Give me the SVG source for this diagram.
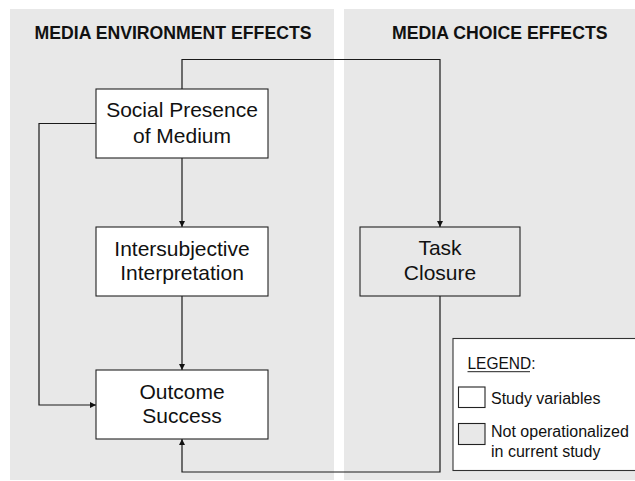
<svg xmlns="http://www.w3.org/2000/svg" width="635" height="481" viewBox="0 0 635 481">
<style>
.panel{fill:#e8e8e8;stroke:none}
.hdr{font-family:"Liberation Sans",Arial,sans-serif;font-weight:bold;font-size:18px;fill:#111}
.box{fill:#fff;stroke:#222;stroke-width:1.1}
.gbox{fill:#e8e8e8;stroke:#222;stroke-width:1.1}
.lbl{font-family:"Liberation Sans",Arial,sans-serif;font-size:21px;fill:#111;text-anchor:middle}
.leg{font-family:"Liberation Sans",Arial,sans-serif;font-size:16px;fill:#111}
.con{fill:none;stroke:#1a1a1a;stroke-width:1.2}
</style>
<defs>
<marker id="ah" viewBox="0 0 10 10" refX="10" refY="5" markerWidth="6" markerHeight="6" markerUnits="userSpaceOnUse" orient="auto">
<path d="M0,0 L10,5 L0,10 z" fill="#111"/>
</marker>
</defs>
<rect class="panel" x="10" y="9" width="324" height="471"/>
<rect class="panel" x="344" y="9" width="291" height="471"/>
<text class="hdr" x="34.5" y="39.3" textLength="277" lengthAdjust="spacingAndGlyphs">MEDIA ENVIRONMENT EFFECTS</text>
<text class="hdr" x="392" y="39.3" textLength="215.5" lengthAdjust="spacingAndGlyphs">MEDIA CHOICE EFFECTS</text>
<g id="connectors">
<path class="con" d="M182,89 V59.5 H440 V227" marker-end="url(#ah)"/>
<path class="con" d="M96,123.5 H39 V405 H96" marker-end="url(#ah)"/>
<path class="con" d="M182,158 V227" marker-end="url(#ah)"/>
<path class="con" d="M182,296 V370" marker-end="url(#ah)"/>
<path class="con" d="M440,296 V472 H182 V439" marker-end="url(#ah)"/>
</g>
<g id="social-presence">
<rect class="box" x="96" y="89" width="172" height="69"/>
<text class="lbl" x="182" y="117.3">Social Presence</text>
<text class="lbl" x="182" y="142.5">of Medium</text>
</g>
<g id="intersubjective">
<rect class="box" x="96" y="227" width="172" height="69"/>
<text class="lbl" x="182" y="256">Intersubjective</text>
<text class="lbl" x="182" y="280">Interpretation</text>
</g>
<g id="outcome">
<rect class="box" x="96" y="370" width="172" height="69"/>
<text class="lbl" x="182" y="398.5">Outcome</text>
<text class="lbl" x="182" y="423.3">Success</text>
</g>
<g id="task-closure">
<rect class="gbox" x="360" y="227" width="160" height="69"/>
<text class="lbl" x="440" y="255">Task</text>
<text class="lbl" x="440" y="280">Closure</text>
</g>
<g id="legend">
<rect x="453" y="338.5" width="190" height="132" fill="#fff" stroke="#333" stroke-width="1.1"/>
<text class="leg" x="467.5" y="369.3" textLength="68" lengthAdjust="spacingAndGlyphs">LEGEND:</text>
<line x1="467.5" y1="371.7" x2="530" y2="371.7" stroke="#222" stroke-width="1"/>
<rect class="box" x="458.5" y="387" width="26.5" height="20.5"/>
<text class="leg" x="491" y="404">Study variables</text>
<rect class="gbox" x="458.5" y="423.5" width="26.5" height="21"/>
<text class="leg" x="491" y="436.7">Not operationalized</text>
<text class="leg" x="491" y="456.7">in current study</text>
</g>
</svg>
